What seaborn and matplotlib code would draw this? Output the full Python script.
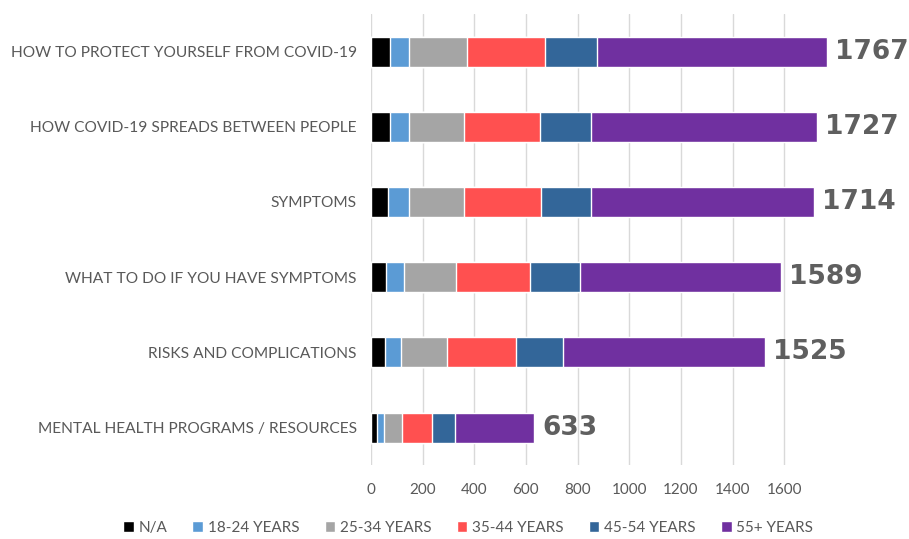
import numpy as np
import pandas as pd
import matplotlib
matplotlib.use('Agg')
import matplotlib.pyplot as plt
from matplotlib.patches import Patch
import seaborn as sns

# data
topics = ['HOW TO PROTECT YOURSELF FROM COVID-19',
          'HOW COVID-19 SPREADS BETWEEN PEOPLE',
          'SYMPTOMS',
          'WHAT TO DO IF YOU HAVE SYMPTOMS',
          'RISKS AND COMPLICATIONS',
          'MENTAL HEALTH PROGRAMS / RESOURCES']
age_groups = ['N/A', '18-24 YEARS', '25-34 YEARS', '35-44 YEARS', '45-54 YEARS', '55+ YEARS']
na_vals = [73, 73, 66, 60, 54, 25]
age_18_24 = [74, 74, 81, 70, 63, 26]
age_25_34 = [224, 213, 213, 201, 179, 68]
age_35_44 = [302, 293, 297, 286, 264, 116]
age_45_54 = [202, 200, 196, 194, 183, 90]
age_55_plus = [892, 874, 861, 778, 782, 308]
totals = [1767, 1727, 1714, 1589, 1525, 633]

colors = ['#000000', '#5B9BD5', '#A5A5A5', '#FF5050', '#336699', '#7030A0']

df = pd.DataFrame({'topic': topics, 'N/A': na_vals, '18-24 YEARS': age_18_24,
                   '25-34 YEARS': age_25_34, '35-44 YEARS': age_35_44,
                   '45-54 YEARS': age_45_54, '55+ YEARS': age_55_plus})
cum = df[age_groups].cumsum(axis=1)
cum['topic'] = df['topic']

sns.set_theme(style='white')
plt.rcParams['font.family'] = ['Lato', 'DejaVu Sans']

fig = plt.figure(figsize=(9.09, 5.39), dpi=100)
ax = fig.add_axes([0.408, 0.137, 0.506, 0.837])

# stacked bars: draw cumulative totals from the longest down
for grp, col in reversed(list(zip(age_groups, colors))):
    sns.barplot(data=cum, x=grp, y='topic', orient='h', color=col,
                width=0.4, saturation=1, ax=ax)

for i, t in enumerate(totals):
    ax.text(t + 30, i, str(t), va='center', ha='left', fontsize=19,
            fontweight='heavy', color='#5F5F5F', family='DejaVu Sans')

ax.set_xlim(0, 1780)
ax.set_ylim(5.5, -0.5)
ax.set_xticks(range(0, 1601, 200))
ax.grid(axis='x', color='#D9D9D9', linewidth=1)
ax.set_axisbelow(True)
for s in ax.spines.values():
    s.set_visible(False)
ax.set_xlabel('')
ax.set_ylabel('')
ax.tick_params(axis='x', labelsize=11, colors='#595959', pad=13, length=0)
ax.tick_params(axis='y', labelsize=11.2, colors='#595959', pad=10, length=0)

handles = [Patch(facecolor=c, label=g) for g, c in zip(age_groups, colors)]
fig.legend(handles=handles, loc='lower center', bbox_to_anchor=(0.515, -0.018),
           ncol=6, frameon=False, fontsize=11, labelcolor='#595959',
           handlelength=0.7, handleheight=0.7, handletextpad=0.3,
           columnspacing=1.65)

fig.savefig('out.png', dpi=100)
